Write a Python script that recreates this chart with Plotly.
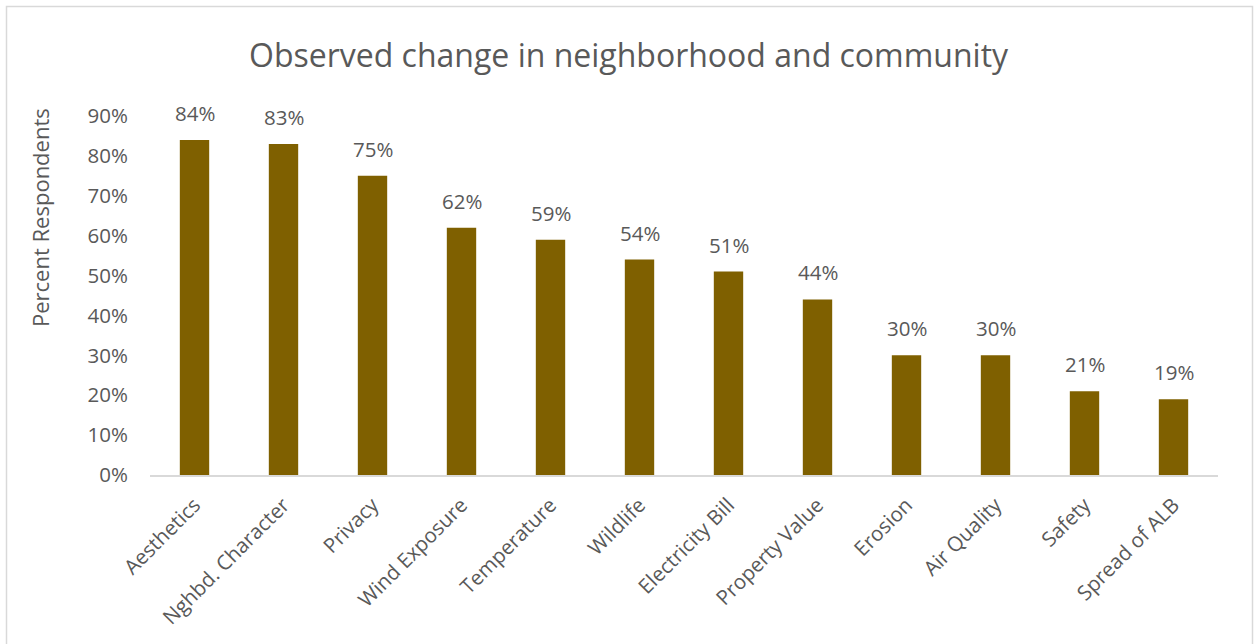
import plotly.graph_objects as go

categories = ["Aesthetics", "Nghbd. Character", "Privacy", "Wind Exposure", "Temperature",
              "Wildlife", "Electricity Bill", "Property Value", "Erosion", "Air Quality",
              "Safety", "Spread of ALB"]
percent = [84, 83, 75, 62, 59, 54, 51, 44, 30, 30, 21, 19]
y_ticks = [0, 10, 20, 30, 40, 50, 60, 70, 80, 90]

W, H = 1258, 644
L, R, T, B = 150, 40, 116, 169
FONT = "Open Sans"
GREY = "#595959"

pw, ph = W - L - R, H - T - B


def px_x(x):
    return (x - L) / pw


def px_y(y):
    return (H - B - y) / ph


fig = go.Figure(go.Bar(
    x=categories,
    y=percent,
    marker=dict(color="#7F6000", line=dict(width=0)),
    width=0.33,
    hoverinfo="skip",
))

annotations = [
    dict(x=c, y=v, xref="x", yref="y", text=f"{v}%", showarrow=False,
         yanchor="middle", yshift=27, font=dict(family=FONT, size=20.5, color=GREY))
    for c, v in zip(categories, percent)
]
annotations.append(dict(
    x=px_x(40), y=px_y(218), xref="paper", yref="paper", text="Percent Respondents",
    textangle=-90, showarrow=False, xanchor="center", yanchor="middle",
    font=dict(family=FONT, size=22, color=GREY)))
annotations.append(dict(
    x=px_x(629), y=px_y(55), xref="paper", yref="paper",
    text="Observed change in neighborhood and community", showarrow=False,
    xanchor="center", yanchor="middle", font=dict(family=FONT, size=32, color=GREY)))

fig.update_layout(
    width=W, height=H,
    margin=dict(l=L, r=R, t=T, b=B, pad=0),
    paper_bgcolor="white", plot_bgcolor="white",
    showlegend=False,
    annotations=annotations,
    bargap=0.67,
    shapes=[dict(type="rect", xref="paper", yref="paper",
                 x0=px_x(6.5), x1=px_x(1252.5), y0=px_y(660), y1=px_y(6.5),
                 line=dict(color="#D9D9D9", width=1.5), fillcolor="rgba(0,0,0,0)",
                 layer="below")],
)
fig.update_xaxes(
    showgrid=False, showline=True, linecolor="#D9D9D9", linewidth=2,
    tickangle=-45, ticks="", ticklabelstandoff=8,
    tickfont=dict(family=FONT, size=20.5, color=GREY),
)
fig.update_yaxes(
    range=[0, 90], tickvals=y_ticks, ticktext=[f"{t}%" for t in y_ticks],
    showgrid=False, showline=False, zeroline=False, ticks="",
    ticklabelstandoff=21,
    tickfont=dict(family=FONT, size=20.5, color=GREY),
)

fig.write_html("out.html")
